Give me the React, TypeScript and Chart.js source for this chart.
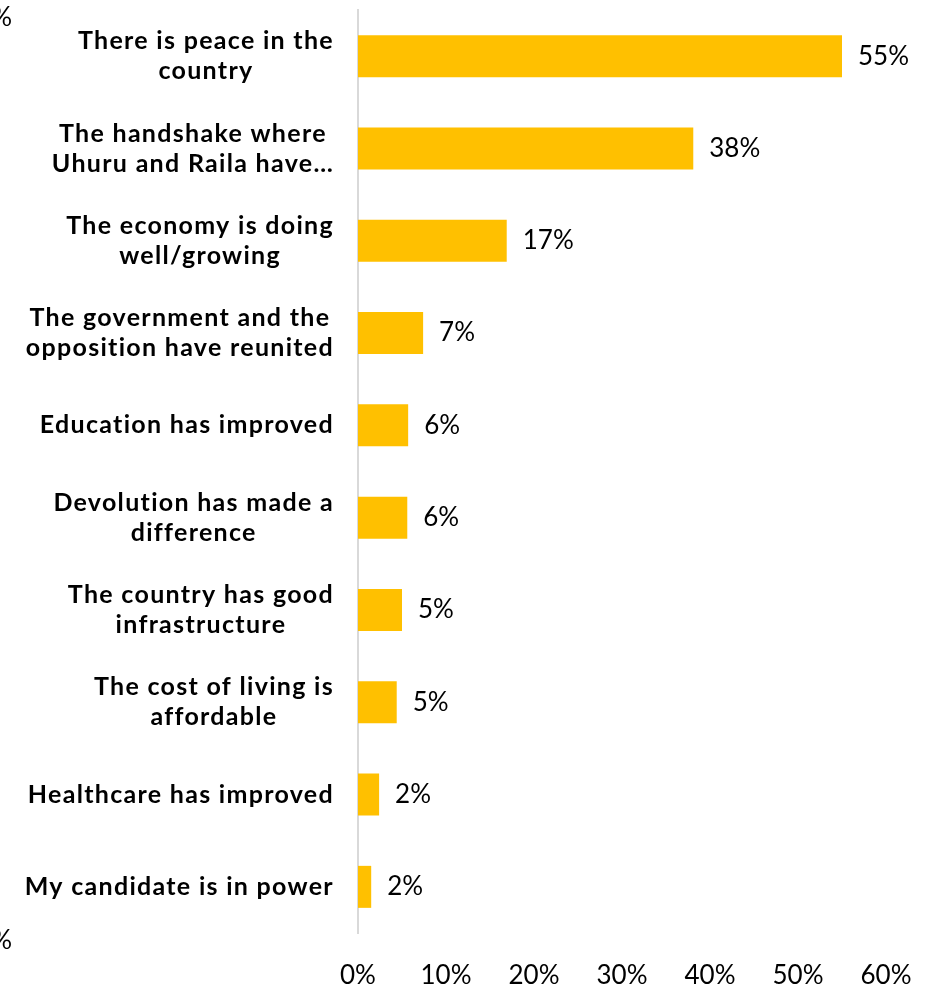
import React, { useEffect, useRef } from "react";
import { Chart, registerables } from "chart.js";

Chart.register(...registerables);

const categories: (string | string[])[] = [
  ["There is peace in the", "country"],
  ["The handshake where", "Uhuru and Raila have…"],
  ["The economy is doing", "well/growing"],
  ["The government and the", "opposition have reunited"],
  "Education has improved",
  ["Devolution has made a", "difference"],
  ["The country has good", "infrastructure"],
  ["The cost of living is", "affordable"],
  "Healthcare has improved",
  "My candidate is in power",
];

const values = [0.55, 0.381, 0.169, 0.074, 0.057, 0.056, 0.05, 0.044, 0.024, 0.015];
const valueLabels = ["55%", "38%", "17%", "7%", "6%", "6%", "5%", "5%", "2%", "2%"];
const xTicks = [0, 0.1, 0.2, 0.3, 0.4, 0.5, 0.6];
const strayLabels = ["%", "%"];

const BAR_COLOR = "#FFC000";
const LABEL_FONT = "Lato";

const categoryLabelPlugin = {
  id: "categoryLabels",
  afterDraw(chart: any) {
    const ctx = chart.ctx;
    const yScale = chart.scales.y;
    const right = chart.chartArea.left - 24;
    const lineHeight = 30;
    ctx.save();
    ctx.font = `bold 25px ${LABEL_FONT}`;
    try { (ctx as any).letterSpacing = "1.3px"; } catch (e) {}
    ctx.fillStyle = "#000";
    ctx.textAlign = "center";
    ctx.textBaseline = "middle";
    categories.forEach((lab, i) => {
      const lines = Array.isArray(lab) ? lab : [lab];
      const maxW = Math.max(...lines.map((l) => ctx.measureText(l).width));
      const cx = right - maxW / 2;
      const cy = yScale.getPixelForValue(i);
      const startY = cy - ((lines.length - 1) * lineHeight) / 2;
      lines.forEach((l, j) => ctx.fillText(l, cx, startY + j * lineHeight));
    });
    try { (ctx as any).letterSpacing = "0px"; } catch (e) {}
    // stray cut-off labels at left edge
    ctx.font = `26px ${LABEL_FONT}`;
    ctx.textAlign = "right";
    ctx.fillText(strayLabels[0], 12, chart.chartArea.top + 8);
    ctx.fillText(strayLabels[1], 12, chart.chartArea.bottom + 8);
    ctx.restore();
  },
};

const valueLabelPlugin = {
  id: "valueLabels",
  afterDatasetsDraw(chart: any) {
    const ctx = chart.ctx;
    const meta = chart.getDatasetMeta(0);
    ctx.save();
    ctx.font = `26px ${LABEL_FONT}`;
    ctx.fillStyle = "#000";
    ctx.textAlign = "left";
    ctx.textBaseline = "middle";
    meta.data.forEach((bar: any, i: number) => {
      ctx.fillText(valueLabels[i], bar.x + 16, bar.y);
    });
    ctx.restore();
  },
};

export default function App() {
  const canvasRef = useRef<HTMLCanvasElement | null>(null);

  useEffect(() => {
    if (!canvasRef.current) return;
    const chart = new Chart(canvasRef.current, {
      type: "bar",
      data: {
        labels: categories as any,
        datasets: [
          {
            data: values,
            backgroundColor: BAR_COLOR,
            borderWidth: 0,
            barPercentage: 0.455,
            categoryPercentage: 1,
          },
        ],
      },
      options: {
        indexAxis: "y",
        animation: false,
        responsive: false,
        devicePixelRatio: 1,
        layout: { padding: { top: 10, right: 44, left: 0, bottom: 0 } },
        plugins: {
          legend: { display: false },
          tooltip: { enabled: false },
          title: { display: false },
        },
        scales: {
          x: {
            type: "linear",
            min: 0,
            max: 0.6,
            afterBuildTicks: (scale: any) => {
              scale.ticks = xTicks.map((v) => ({ value: v }));
            },
            afterFit: (scale: any) => {
              scale.height = 54;
              scale.paddingLeft = 0;
              scale.paddingRight = 0;
            },
            grid: { display: false, drawTicks: false },
            border: { display: false },
            ticks: {
              padding: 27,
              color: "#000",
              font: { family: LABEL_FONT, size: 26 },
              maxRotation: 0,
              callback: (v: any) => `${Math.round(Number(v) * 100)}%`,
            },
          },
          y: {
            type: "category",
            afterFit: (scale: any) => {
              scale.width = 358;
              scale.paddingTop = 0;
              scale.paddingBottom = 0;
            },
            grid: { display: false, drawTicks: false },
            border: { display: true, color: "#d9d9d9", width: 2 },
            ticks: { display: false },
          },
        },
      },
      plugins: [categoryLabelPlugin, valueLabelPlugin],
    });
    return () => chart.destroy();
  }, []);

  return (
    <div style={{ position: "fixed", top: 0, left: 0, width: 930, height: 987, background: "#fff" }}>
      <canvas ref={canvasRef} width={930} height={987} style={{ display: "block" }} />
    </div>
  );
}
